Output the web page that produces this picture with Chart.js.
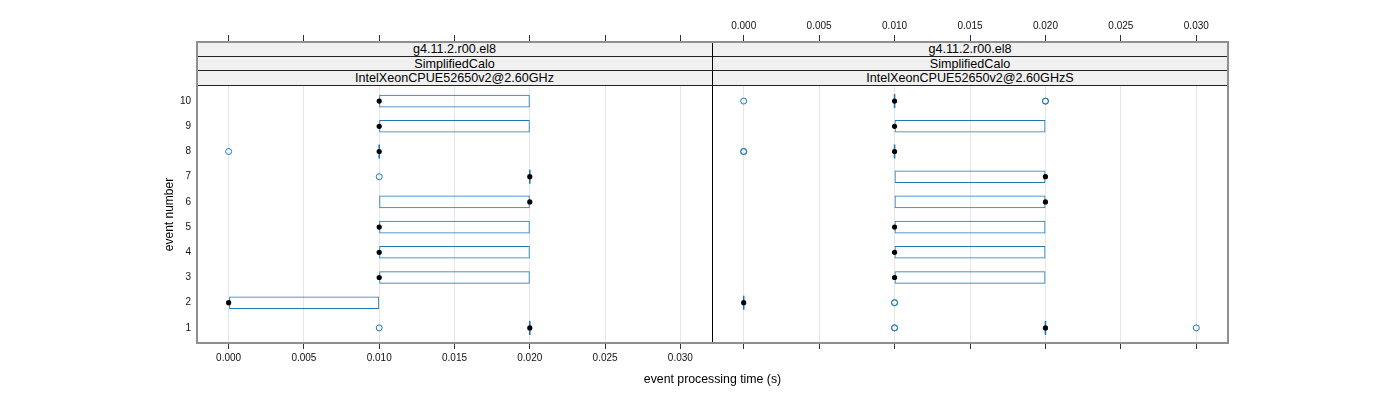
<!DOCTYPE html>
<html>
<head>
<meta charset="utf-8">
<script src="https://cdn.jsdelivr.net/npm/chart.js@4.4.0/dist/chart.umd.min.js"></script>
<style>
  body { margin: 0; background: #fff; font-family: "Liberation Sans", Arial, sans-serif; }
  #wrap { position: relative; width: 1400px; height: 400px; overflow: hidden; }
  #wrap canvas { position: absolute; top: 0; }
  .strip { position: absolute; box-sizing: border-box; background: #f0f0f0; border-bottom: 1px solid #222;
           text-align: center; font-size: 12.6px; color: #000; white-space: nowrap; }
  .frame { position: absolute; left: 196px; top: 41px; width: 1033px; height: 303px;
           box-sizing: border-box; border: 2px solid #8f8f8f; pointer-events: none; }
  .sep { position: absolute; left: 712px; top: 42px; width: 1px; height: 301px; background: #000; }
  .xtitle { position: absolute; left: 512px; width: 401px; top: 372px; line-height: 14px;
            text-align: center; font-size: 12.3px; color: #000; }
</style>
</head>
<body>
<div id="wrap">
  <canvas id="left" width="732" height="400" style="left:0px"></canvas>
  <canvas id="right" width="708" height="400" style="left:692px"></canvas>
  <div class="sep"></div>
  <div class="frame"></div>
  <div class="xtitle">event processing time (s)</div>
</div>
<script>
// event numbers on the y axis and tick values on the x axis
const events = [1, 2, 3, 4, 5, 6, 7, 8, 9, 10];
const xTicks = [0, 0.005, 0.010, 0.015, 0.020, 0.025, 0.030];
const xLimits = [-0.0021, 0.0321];
const yLimits = [0.4, 10.6];

const stripLeft = ['g4.11.2.r00.el8', 'SimplifiedCalo', 'IntelXeonCPUE52650v2@2.60GHz'];
const stripRight = ['g4.11.2.r00.el8', 'SimplifiedCalo', 'IntelXeonCPUE52650v2@2.60GHzS'];

// left panel: box lower/upper hinge, median and outliers per event
const leftLower  = [0.02, 0.00, 0.01, 0.01, 0.01, 0.01, 0.02, 0.01, 0.01, 0.01];
const leftUpper  = [0.02, 0.01, 0.02, 0.02, 0.02, 0.02, 0.02, 0.01, 0.02, 0.02];
const leftMedian = [0.02, 0.00, 0.01, 0.01, 0.01, 0.02, 0.02, 0.01, 0.01, 0.01];
const leftOut    = [[0.01], [], [], [], [], [], [0.01], [0.00], [], []];

// right panel
const rightLower  = [0.02, 0.00, 0.01, 0.01, 0.01, 0.01, 0.01, 0.01, 0.01, 0.01];
const rightUpper  = [0.02, 0.00, 0.02, 0.02, 0.02, 0.02, 0.02, 0.01, 0.02, 0.01];
const rightMedian = [0.02, 0.00, 0.01, 0.01, 0.01, 0.02, 0.02, 0.01, 0.01, 0.01];
const rightOut    = [[0.01, 0.01, 0.03], [0.01, 0.01], [], [], [], [], [], [0.00, 0.00], [], [0.00, 0.02, 0.02]];

const BLUE = '#1f78b4';
Chart.defaults.font.family = '"Liberation Sans", Arial, sans-serif';
Chart.defaults.color = '#000';

function boxes(lo, hi) {
  return events.map((e, i) => hi[i] > lo[i] ? { y: e, x: [lo[i], hi[i]] } : null).filter(Boolean);
}
function flatBoxes(lo, hi) {
  return events.map((e, i) => hi[i] === lo[i] ? { y: e, x: lo[i] } : null).filter(Boolean);
}
function medians(med) {
  return events.map((e, i) => ({ y: e, x: med[i] }));
}
function outliers(out) {
  const pts = [];
  events.forEach((e, i) => out[i].forEach(v => pts.push({ y: e, x: v })));
  return pts;
}

function panel(id, lo, hi, med, out, isLeft) {
  new Chart(document.getElementById(id), {
    type: 'bar',
    data: {
      datasets: [
        { type: 'scatter', data: medians(med), order: 0, xAxisID: 'x', yAxisID: 'y',
          pointStyle: 'circle', pointRadius: 2.6, backgroundColor: '#000', borderWidth: 0 },
        { type: 'scatter', data: outliers(out), order: 1, xAxisID: 'x', yAxisID: 'y',
          pointStyle: 'circle', pointRadius: 3, backgroundColor: 'rgba(0,0,0,0)',
          borderColor: BLUE, borderWidth: 1 },
        { type: 'scatter', data: flatBoxes(lo, hi), order: 2, xAxisID: 'x', yAxisID: 'y',
          pointStyle: 'line', rotation: 90, pointRadius: 7, borderColor: BLUE, borderWidth: 1.6 },
        { type: 'bar', indexAxis: 'y', data: boxes(lo, hi), order: 3, xAxisID: 'x', yAxisID: 'y',
          backgroundColor: 'rgba(0,0,0,0)', borderColor: BLUE, borderWidth: 1, borderSkipped: false,
          categoryPercentage: 1, barPercentage: 0.5 }
      ]
    },
    options: {
      responsive: false,
      animation: false,
      events: [],
      layout: { padding: { left: 0, right: isLeft ? 20 : 172, top: 0, bottom: 0 } },
      plugins: { legend: { display: false }, tooltip: { enabled: false } },
      scales: {
        x: {
          type: 'linear', position: 'bottom', min: xLimits[0], max: xLimits[1],
          offset: false, beginAtZero: false,
          afterBuildTicks: s => { s.ticks = xTicks.map(v => ({ value: v })); },
          afterFit: s => { s.height = 57; },
          border: { display: false },
          grid: { offset: false, color: '#e6e6e6', lineWidth: 1, drawTicks: true, tickLength: 6,
                  tickColor: '#333', tickWidth: 1 },
          ticks: { display: isLeft, padding: 3, font: { size: 10 }, color: '#111',
                   maxRotation: 0, autoSkip: false, callback: v => v.toFixed(3) }
        },
        x2: {
          type: 'linear', position: 'top', min: xLimits[0], max: xLimits[1],
          offset: false, beginAtZero: false,
          afterBuildTicks: s => { s.ticks = xTicks.map(v => ({ value: v })); },
          afterFit: s => { s.height = 86; },
          border: { display: false },
          grid: { offset: false, drawOnChartArea: false, drawTicks: true, tickLength: 51,
                  tickColor: '#333', tickWidth: 1 },
          ticks: { display: !isLeft, padding: 3, font: { size: 10 }, color: '#111',
                   maxRotation: 0, autoSkip: false, callback: v => v.toFixed(3) }
        },
        y: {
          type: 'linear', position: 'left', min: yLimits[0], max: yLimits[1],
          offset: false, beginAtZero: false,
          afterBuildTicks: s => { s.ticks = events.map(v => ({ value: v })); },
          afterFit: s => { s.width = isLeft ? 197 : 20; },
          border: { display: false },
          grid: { offset: false, display: false, drawTicks: false },
          ticks: { display: isLeft, padding: 6, font: { size: 10 }, color: '#111', autoSkip: false },
          title: { display: isLeft, text: 'event number', font: { size: 12 }, color: '#000',
                   padding: { top: 162, bottom: 0 } }
        }
      }
    }
  });
}

panel('left', leftLower, leftUpper, leftMedian, leftOut, true);
panel('right', rightLower, rightUpper, rightMedian, rightOut, false);

// strip labels above each panel
const wrap = document.getElementById('wrap');
const rowH = 44 / 3;
[[197, 515, stripLeft], [712, 516, stripRight]].forEach(([left, width, labels]) => {
  labels.forEach((txt, r) => {
    const d = document.createElement('div');
    d.className = 'strip';
    d.style.left = left + 'px';
    d.style.width = width + 'px';
    d.style.top = (42 + r * rowH) + 'px';
    d.style.height = rowH + 'px';
    d.style.lineHeight = rowH + 'px';
    d.textContent = txt;
    wrap.insertBefore(d, wrap.querySelector('.sep'));
  });
});
</script>
</body>
</html>
